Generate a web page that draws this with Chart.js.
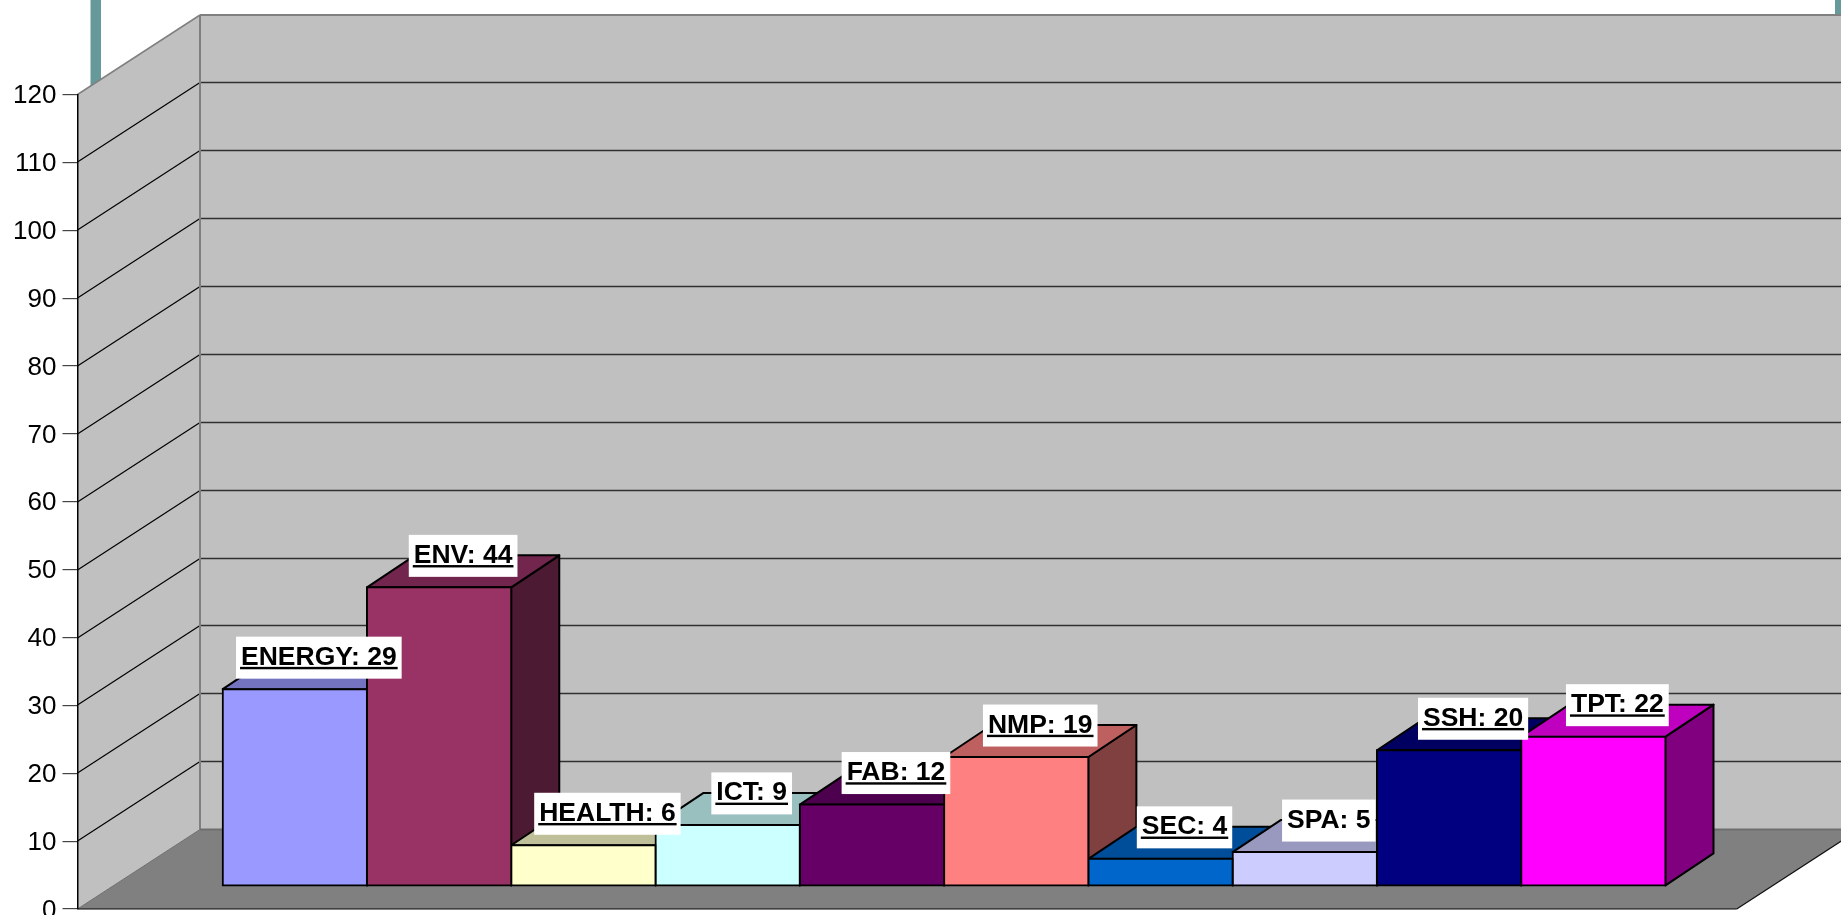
<!DOCTYPE html>
<html>
<head>
<meta charset="utf-8">
<style>html,body{margin:0;padding:0;background:#fff;overflow:hidden}canvas{display:block}</style>
<script src="https://cdn.jsdelivr.net/npm/chart.js@4/dist/chart.umd.min.js"></script>
</head>
<body>
<canvas id="c" width="1841" height="915"></canvas>
<script>
const categories = [''];
const seriesNames = ['ENERGY','ENV','HEALTH','ICT','FAB','NMP','SEC','SPA','SSH','TPT'];
const seriesValues = [29,44,6,9,12,19,4,5,20,22];
const seriesFront = ['#9999FF','#993366','#FFFFCC','#CCFFFF','#660066','#FF8080','#0066CC','#CCCCFF','#000080','#FF00FF'];
const plainLabels = ['SPA'];
const yMin = 0, yMax = 120, yStep = 10;

const WALL = {dx:122.5, dy:-79.5};
const PLANE = {dx:37, dy:-23};
const BAR = {dx:48, dy:-32};

function shade(hex,f){
  const n=parseInt(hex.slice(1),16);
  return `rgb(${Math.round((n>>16&255)*f)},${Math.round((n>>8&255)*f)},${Math.round((n&255)*f)})`;
}
function poly(ctx,pts,fill,stroke,lw){
  ctx.beginPath();
  pts.forEach((p,i)=>i?ctx.lineTo(p[0],p[1]):ctx.moveTo(p[0],p[1]));
  ctx.closePath();
  if(fill){ctx.fillStyle=fill;ctx.fill();}
  if(stroke){ctx.strokeStyle=stroke;ctx.lineWidth=lw||1;ctx.stroke();}
}
function line(ctx,x0,y0,x1,y1,c,w){
  ctx.beginPath();ctx.moveTo(x0,y0);ctx.lineTo(x1,y1);ctx.strokeStyle=c;ctx.lineWidth=w;ctx.stroke();
}
function barBox(chart,i){
  const el=chart.getDatasetMeta(i).data[0];
  const p=el.getProps(['x','y','base','width'],true);
  return {l:p.x-p.width/2+PLANE.dx,r:p.x+p.width/2+PLANE.dx,t:p.y+PLANE.dy,b:p.base+PLANE.dy};
}

const walls3d = {
  id:'walls3d',
  beforeDraw(chart){
    const {ctx,chartArea:a,scales:{y}}=chart;
    const y0=y.getPixelForValue(yMin), yT=y.getPixelForValue(yMax);
    const xb=a.left+WALL.dx, xr=a.right+WALL.dx;
    ctx.save();
    // teal strips behind the wall
    ctx.fillStyle='#669999';
    ctx.fillRect(90.5,0,10.5,90);
    ctx.fillRect(1835,0,6,16);
    // back wall
    poly(ctx,[[xb,yT+WALL.dy],[xr,yT+WALL.dy],[xr,y0+WALL.dy],[xb,y0+WALL.dy]],'#C0C0C0');
    // side wall
    poly(ctx,[[a.left,yT],[xb,yT+WALL.dy],[xb,y0+WALL.dy],[a.left,y0]],'#C0C0C0');
    // floor
    poly(ctx,[[a.left,y0],[xb,y0+WALL.dy],[xr,y0+WALL.dy],[a.right,y0]],'#808080');
    // grid lines
    for(let v=yMin+yStep;v<yMax;v+=yStep){
      const p=Math.round(y.getPixelForValue(v));
      line(ctx,a.left,p,xb,p+WALL.dy,'#000',1.2);
      line(ctx,xb,p+WALL.dy,xr,p+WALL.dy,'#303030',1.5);
    }
    // wall outlines
    line(ctx,xb,yT+WALL.dy,xb,y0+WALL.dy,'#808080',2);
    line(ctx,xb,yT+WALL.dy,xr,yT+WALL.dy,'#808080',2);
    line(ctx,a.left,yT,xb,yT+WALL.dy,'#808080',1.5);
    line(ctx,a.left,y0,xb,y0+WALL.dy,'#6e6e6e',1);
    line(ctx,xb,y0+WALL.dy,xr,y0+WALL.dy,'#6e6e6e',2);
    line(ctx,a.left,y0,a.right,y0,'#000',1.2);
    line(ctx,a.right,y0,xr,y0+WALL.dy,'#111',1.2);
    ctx.restore();
  },
  beforeDatasetsDraw(chart){
    const ctx=chart.ctx;
    ctx.save();
    seriesNames.forEach((n,i)=>{
      const b=barBox(chart,i);
      const c=seriesFront[i];
      ctx.lineJoin='round';
      poly(ctx,[[b.r,b.t],[b.r+BAR.dx,b.t+BAR.dy],[b.r+BAR.dx,b.b+BAR.dy],[b.r,b.b]],shade(c,.5),'#000',2);
      poly(ctx,[[b.l,b.t],[b.l+BAR.dx,b.t+BAR.dy],[b.r+BAR.dx,b.t+BAR.dy],[b.r,b.t]],shade(c,.75),'#000',2);
    });
    ctx.restore();
    ctx.save();
    ctx.translate(PLANE.dx,PLANE.dy);
  },
  afterDatasetsDraw(chart){
    const ctx=chart.ctx;
    ctx.restore();
    ctx.save();
    seriesNames.forEach((n,i)=>{
      const b=barBox(chart,i);
      const text=n+': '+seriesValues[i];
      ctx.font='bold 26.5px "Liberation Sans", Arial, sans-serif';
      const w=ctx.measureText(text).width;
      const cx=(b.l+b.r)/2+BAR.dx/2, cy=b.t+BAR.dy/2-15.5;
      ctx.fillStyle='#fff';
      ctx.fillRect(cx-w/2-5,cy-21,w+10,42);
      ctx.fillStyle='#000';
      ctx.textAlign='left';ctx.textBaseline='alphabetic';
      ctx.fillText(text,cx-w/2,cy+7);
      if(!plainLabels.includes(n)){
        ctx.fillRect(cx-w/2-1,cy+9.2,w+2,2.4);
      }
    });
    ctx.restore();
  }
};

new Chart(document.getElementById('c'),{
  type:'bar',
  data:{
    labels:categories,
    datasets:seriesNames.map((n,i)=>({
      label:n,
      data:[seriesValues[i]],
      backgroundColor:seriesFront[i],
      borderColor:'#000',
      borderWidth:2,
      borderSkipped:false,
      inflateAmount:1,
      barPercentage:1,
      categoryPercentage:10/11.5,
      clip:false
    }))
  },
  plugins:[walls3d],
  options:{
    responsive:false,
    animation:false,
    devicePixelRatio:1,
    layout:{padding:{top:94.5,bottom:6,left:0,right:104.3}},
    plugins:{legend:{display:false},tooltip:{enabled:false},title:{display:false}},
    scales:{
      x:{display:false},
      y:{
        min:yMin,max:yMax,
        afterFit(s){s.width=77.5;s.paddingTop=0;s.paddingBottom=0;},
        ticks:{stepSize:yStep,padding:6,labelOffset:1.5,color:'#000',font:{family:'"Liberation Sans", Arial, sans-serif',size:26}},
        grid:{drawOnChartArea:false,drawTicks:true,tickLength:15,color:'#444',lineWidth:1.2},
        border:{display:true,color:'#000',width:1.5}
      }
    }
  }
});
</script>
</body>
</html>
